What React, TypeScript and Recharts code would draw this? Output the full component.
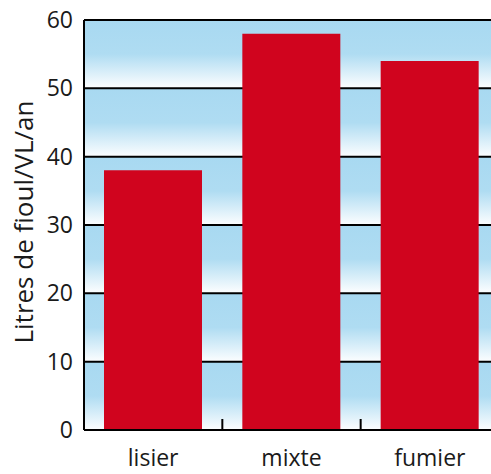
import { BarChart, Bar, XAxis, YAxis, CartesianGrid } from 'recharts';

const categories = ['lisier', 'mixte', 'fumier'];
const litres = [38, 58, 54];
const yTicks = [0, 10, 20, 30, 40, 50, 60];
const yLabel = 'Litres de fioul/VL/an';

const data = categories.map((c, i) => ({ name: c, value: litres[i] }));

const FONT = '"Open Sans", sans-serif';
const PLOT_W = 415;
const BAND = PLOT_W / categories.length;

function CategoryTick(props: any) {
  const { x, y, payload, index } = props;
  return (
    <g>
      {index > 0 && (
        <line x1={x - BAND / 2} x2={x - BAND / 2} y1={y} y2={y - 11} stroke="#000" strokeWidth={2} />
      )}
      <text x={x} y={y + 36} textAnchor="middle" fill="#1a1a1a" fontSize={23} fontFamily={FONT}>
        {payload.value}
      </text>
    </g>
  );
}

export default function App() {
  return (
    <div style={{ position: 'absolute', left: 0, top: 0, width: 491, height: 474, overflow: 'hidden', background: '#fff' }}>
      <svg width={0} height={0} style={{ position: 'absolute' }}>
        <defs>
          <linearGradient id="band" x1="0" y1="0" x2="0" y2="1">
            <stop offset="0%" stopColor="#a8d9f1" />
            <stop offset="50%" stopColor="#afdcf2" />
            <stop offset="100%" stopColor="#fdfeff" />
          </linearGradient>
        </defs>
      </svg>
      <BarChart width={520} height={474} data={data} margin={{ top: 20, right: 21, left: 0, bottom: 0 }}>
        <CartesianGrid
          vertical={false}
          stroke="#000"
          strokeWidth={2}
          horizontalFill={['url(#band)']}
          fillOpacity={1}
        />
        <XAxis
          dataKey="name"
          height={44}
          axisLine={{ stroke: '#000', strokeWidth: 2 }}
          tickLine={false}
          tickSize={0}
          tickMargin={0}
          tick={<CategoryTick />}
          interval={0}
        />
        <YAxis
          width={84}
          domain={[0, 60]}
          ticks={yTicks}
          axisLine={{ stroke: '#000', strokeWidth: 2 }}
          tickLine={false}
          tickSize={0}
          tickMargin={11}
          tick={{ fill: '#1a1a1a', fontSize: 23, fontFamily: FONT }}
          label={{
            content: () => (
              <text
                x={23}
                y={222}
                transform="rotate(-90 23 222)"
                textAnchor="middle"
                dominantBaseline="central"
                fill="#1a1a1a"
                fontSize={26}
                fontFamily={FONT}
              >
                {yLabel}
              </text>
            ),
          }}
        />
        <Bar dataKey="value" fill="#d0041e" barSize={98} isAnimationActive={false} />
      </BarChart>
    </div>
  );
}
